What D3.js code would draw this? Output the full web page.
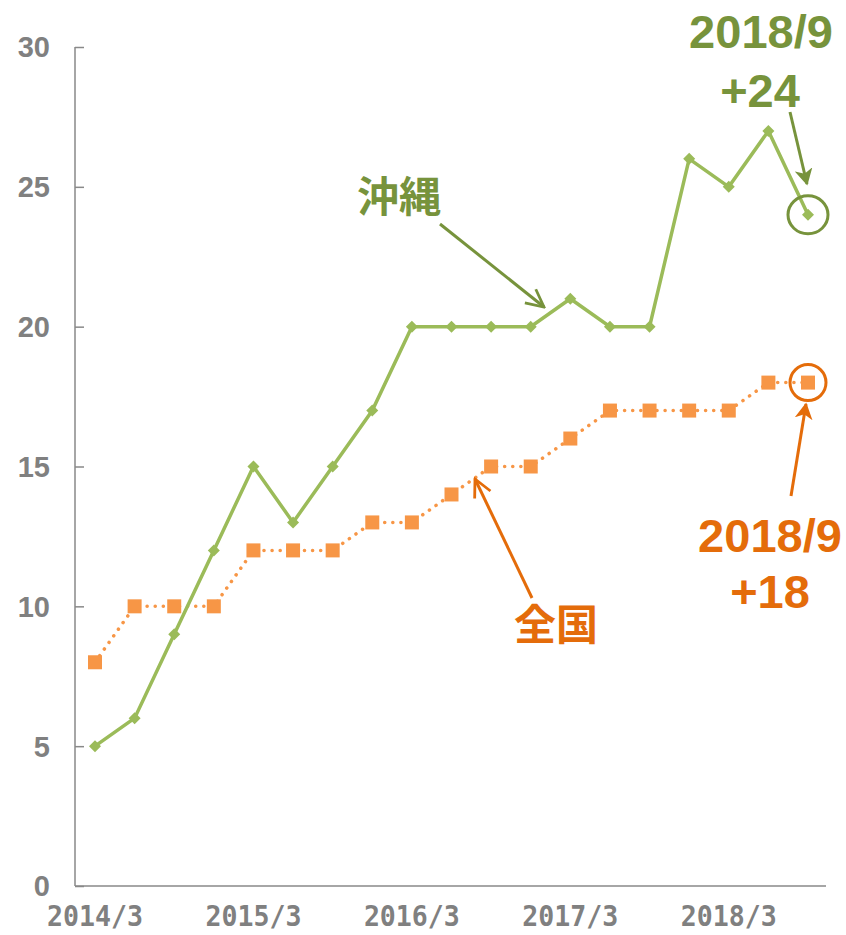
<!DOCTYPE html>
<html>
<head>
<meta charset="utf-8">
<script src="https://cdn.jsdelivr.net/npm/d3@7"></script>
<style>
  body { margin: 0; background: #fff; }
  svg { display: block; }
</style>
</head>
<body>
<svg id="chart"></svg>
<script>
// quarterly points, 2014/3 .. 2018/9
var periods = ["2014/3","2014/6","2014/9","2014/12","2015/3","2015/6","2015/9","2015/12",
               "2016/3","2016/6","2016/9","2016/12","2017/3","2017/6","2017/9","2017/12",
               "2018/3","2018/6","2018/9"];
var okinawa = [5, 6, 9, 12, 15, 13, 15, 17, 20, 20, 20, 20, 21, 20, 20, 26, 25, 27, 24];
var zenkoku = [8, 10, 10, 10, 12, 12, 12, 13, 13, 14, 15, 15, 16, 17, 17, 17, 17, 18, 18];
var xTickLabels = ["2014/3", "2015/3", "2016/3", "2017/3", "2018/3"];
var yTicks = [0, 5, 10, 15, 20, 25, 30];

var width = 846, height = 935;
var svg = d3.select("#chart").attr("width", width).attr("height", height);

var x = d3.scalePoint().domain(periods).range([95, 808]);
var y = d3.scaleLinear().domain([0, 30]).range([886, 47]);

var axisGrey = "#898989";

// y axis: ticks point inward
var yAxis = svg.append("g").attr("transform", "translate(75,0)")
  .call(d3.axisRight(y).tickValues(yTicks).tickSize(9).tickFormat(""));
yAxis.select(".domain").attr("stroke", axisGrey).attr("stroke-width", 1.5).attr("d", "M0,47V886");
yAxis.selectAll(".tick line").attr("stroke", axisGrey).attr("stroke-width", 1.5);

svg.append("g").selectAll("text").data(yTicks).enter().append("text")
  .attr("x", 50).attr("y", function(d) { return y(d); })
  .attr("dy", "0.36em").attr("text-anchor", "end")
  .attr("font-family", "Liberation Sans, Arial, sans-serif")
  .attr("font-weight", "bold").attr("font-size", 29).attr("fill", "#808080")
  .text(function(d) { return d; });

// x axis line
svg.append("line").attr("x1", 75).attr("x2", 826).attr("y1", 886).attr("y2", 886)
  .attr("stroke", axisGrey).attr("stroke-width", 1.5);

svg.append("g").selectAll("text").data(xTickLabels).enter().append("text")
  .attr("x", function(d) { return x(d); }).attr("y", 926)
  .attr("text-anchor", "middle")
  .attr("font-family", "DejaVu Sans Mono, monospace")
  .attr("font-weight", "bold")
  .attr("font-size", 28).attr("fill", "#808080")
  .attr("textLength", 96).attr("lengthAdjust", "spacingAndGlyphs")
  .text(function(d) { return d; });

var line = d3.line().x(function(d, i) { return x(periods[i]); }).y(function(d) { return y(d); });

var green = "#9BBB59", darkGreen = "#77933C";
var orange = "#F79646", darkOrange = "#E46C0A";

// national series: dotted
svg.append("path").datum(zenkoku).attr("d", line)
  .attr("fill", "none").attr("stroke", orange).attr("stroke-width", 3.5)
  .attr("stroke-linecap", "round").attr("stroke-dasharray", "0.1 8");

svg.append("g").selectAll("rect").data(zenkoku).enter().append("rect")
  .attr("x", function(d, i) { return x(periods[i]) - 7; })
  .attr("y", function(d) { return y(d) - 7; })
  .attr("width", 14).attr("height", 14).attr("fill", orange);

// okinawa series
svg.append("path").datum(okinawa).attr("d", line)
  .attr("fill", "none").attr("stroke", green).attr("stroke-width", 3.5);

svg.append("g").selectAll("path.m").data(okinawa).enter().append("path")
  .attr("class", "m")
  .attr("transform", function(d, i) { return "translate(" + x(periods[i]) + "," + y(d) + ")"; })
  .attr("d", "M0,-6L6,0L0,6L-6,0Z").attr("fill", green);

// arrowheads
var defs = svg.append("defs");
function marker(id, col) {
  defs.append("marker").attr("id", id).attr("viewBox", "0 0 12 12")
    .attr("refX", 10).attr("refY", 6).attr("markerWidth", 6).attr("markerHeight", 6)
    .attr("markerUnits", "strokeWidth").attr("orient", "auto")
    .append("path").attr("d", "M0,0L11,6L0,12L3,6Z").attr("fill", col);
}
function openMarker(id, col) {
  defs.append("marker").attr("id", id).attr("viewBox", "0 0 12 12")
    .attr("refX", 11).attr("refY", 6).attr("markerWidth", 7).attr("markerHeight", 7)
    .attr("markerUnits", "strokeWidth").attr("orient", "auto")
    .append("path").attr("d", "M1,1L11,6L1,11").attr("fill", "none")
    .attr("stroke", col).attr("stroke-width", 1.6);
}
marker("gFill", darkGreen);
marker("oFill", darkOrange);
openMarker("gOpen", darkGreen);
openMarker("oOpen", darkOrange);

var last = periods.length - 1;

// highlight circles on last points
svg.append("ellipse").attr("cx", x(periods[last])).attr("cy", y(okinawa[last]))
  .attr("rx", 20).attr("ry", 19).attr("fill", "none").attr("stroke", darkGreen).attr("stroke-width", 3);
svg.append("ellipse").attr("cx", x(periods[last])).attr("cy", y(zenkoku[last]))
  .attr("rx", 18).attr("ry", 18).attr("fill", "none").attr("stroke", darkOrange).attr("stroke-width", 3);

// arrows
svg.append("line").attr("x1", 790).attr("y1", 112).attr("x2", 807).attr("y2", 184)
  .attr("stroke", darkGreen).attr("stroke-width", 3).attr("marker-end", "url(#gFill)");
svg.append("line").attr("x1", 791).attr("y1", 496).attr("x2", 806).attr("y2", 404)
  .attr("stroke", darkOrange).attr("stroke-width", 3).attr("marker-end", "url(#oFill)");
svg.append("line").attr("x1", 440).attr("y1", 224).attr("x2", 544).attr("y2", 307)
  .attr("stroke", darkGreen).attr("stroke-width", 3).attr("marker-end", "url(#gOpen)");
svg.append("line").attr("x1", 532).attr("y1", 598).attr("x2", 475).attr("y2", 479)
  .attr("stroke", darkOrange).attr("stroke-width", 3).attr("marker-end", "url(#oOpen)");

// labels
function label(txt, cx, cy, col, size) {
  svg.append("text").attr("x", cx).attr("y", cy).attr("dy", "0.36em")
    .attr("text-anchor", "middle")
    .attr("font-family", "Liberation Sans, Noto Sans CJK JP, sans-serif")
    .attr("font-weight", "bold").attr("font-size", size).attr("fill", col)
    .text(txt);
}
label("2018/9", 761, 31, darkGreen, 47);
label("+24", 760, 90, darkGreen, 47);
label("2018/9", 770, 535, darkOrange, 47);
label("+18", 770, 591, darkOrange, 47);

function cjkLabel(txt, cx, cy, col) {
  svg.append("text").attr("x", cx).attr("y", cy).attr("dy", "0.36em")
    .attr("text-anchor", "middle")
    .attr("font-family", "Noto Sans CJK JP, sans-serif")
    .attr("font-weight", "bold").attr("font-size", 42).attr("fill", col)
    .text(txt);
}
cjkLabel("沖縄", 399, 197, darkGreen);
cjkLabel("全国", 556, 625, darkOrange);
</script>
</body>
</html>
